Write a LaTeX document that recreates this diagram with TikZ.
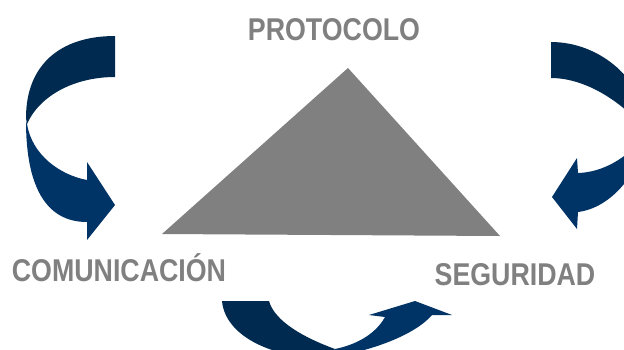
\documentclass[tikz,border=0pt]{standalone}
\usepackage{fontspec}
\newfontfamily\labfont[FakeStretch=0.85]{Liberation Sans Bold}
\definecolor{navydark}{RGB}{0,42,80}
\definecolor{navylight}{RGB}{0,51,102}
\definecolor{labgray}{RGB}{128,128,128}
\definecolor{trigray}{RGB}{128,128,128}
\tikzset{
  lbl/.style={font=\labfont\fontsize{31.5}{31.5}\selectfont, text=labgray, inner sep=0pt, anchor=base},
  darkpart/.style={fill=navydark, draw=none},
  lightpart/.style={fill=navylight, draw=none}
}
\begin{document}
\begin{tikzpicture}[x=1pt,y=-1pt]
\useasboundingbox (0,0) rectangle (624,349);
\fill[white] (0,0) rectangle (624,349);
% triangle
\fill[trigray] (348,68) -- (162,234) -- (500,236) -- cycle;
\begin{scope}
\clip (0,0) rectangle (624,349);
% left arrow
\path[darkpart] (115,36) .. controls (60,36) and (26,65) .. (26,118)
  -- (27,124) .. controls (40,95) and (75,77) .. (115,77) -- cycle;
\path[lightpart] (26,121) .. controls (26,185) and (45,222) .. (87,222)
  -- (87,240) -- (115,205) -- (87,162) -- (87,180)
  .. controls (60,175) and (32,155) .. (27,124) -- cycle;
% right arrow
\path[darkpart] (551,42) .. controls (600,42) and (645,80) .. (648,130)
  -- (646,134) .. controls (645,125) and (600,78) .. (551,78) -- cycle;
\path[lightpart] (647,130) .. controls (640,146) and (612,172) .. (578,173)
  -- (577,158) -- (552,197) -- (577,229) -- (578,212)
  .. controls (610,208) and (640,175) .. (648,130) -- cycle;
% bottom arrow
\path[darkpart] (222,301) .. controls (225,335) and (270,358) .. (325,358)
  -- (335,349) .. controls (305,338) and (275,322) .. (269,301) -- cycle;
\path[lightpart] (335,349) .. controls (355,345) and (375,335) .. (385,317)
  -- (369,315) -- (415,301) -- (452,315) -- (432,315)
  .. controls (415,335) and (370,352) .. (325,358) -- cycle;
\end{scope}
% labels
\node[lbl] (proto) at (334,40) {PROTOCOLO};
\node[lbl] (comu) at (119,281) {COMUNICACIÓN};
\node[lbl] (segu) at (515,285) {SEGURIDAD};
\end{tikzpicture}
\end{document}
